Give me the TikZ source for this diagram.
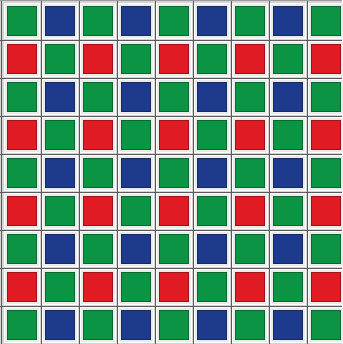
\documentclass[tikz,border=0pt]{standalone}
\definecolor{bgreen}{HTML}{0B9444}
\definecolor{bblue}{HTML}{1E3A8C}
\definecolor{bred}{HTML}{E01B24}
\definecolor{framegray}{HTML}{D4D4D4}
\definecolor{gridline}{HTML}{5A5A5A}
\begin{document}
\begin{tikzpicture}[x=1pt,y=-1pt,
  cellframe/.style={fill=white!92!black, draw=white, line width=1.2pt},
  filter/.style={line width=1.2pt}]
\useasboundingbox (0,0) rectangle (342,344);
\fill[framegray] (0,0) rectangle (342,344);
\foreach \i in {0,...,8}{
  \foreach \j in {0,...,8}{
    \pgfmathtruncatemacro{\p}{mod(\i,2)}
    \pgfmathtruncatemacro{\q}{mod(\j,2)}
    \pgfmathsetmacro{\xa}{3+38*\i}
    \pgfmathsetmacro{\ya}{2+38*\j}
    \ifnum\q=0
      \ifnum\p=0 \def\col{bgreen}\else\def\col{bblue}\fi
    \else
      \ifnum\p=0 \def\col{bred}\else\def\col{bgreen}\fi
    \fi
    \path[cellframe] (\xa+1.5,\ya+1.5) rectangle (\xa+36.5,\ya+36.5);
    \path[filter, fill=\col, draw=\col!70!black] (\xa+4.5,\ya+4.5) rectangle (\xa+33.5,\ya+33.5);
  }
}
\foreach \k in {1,...,8}{
  \draw[gridline, line width=0.9pt] (3+38*\k,0) -- (3+38*\k,344);
  \draw[gridline, line width=0.9pt] (0,2+38*\k) -- (342,2+38*\k);
}
\draw[gridline, line width=1pt] (1,0) -- (1,344);
\draw[gridline!60, line width=0.8pt] (0,0.5) -- (342,0.5);
\end{tikzpicture}
\end{document}
